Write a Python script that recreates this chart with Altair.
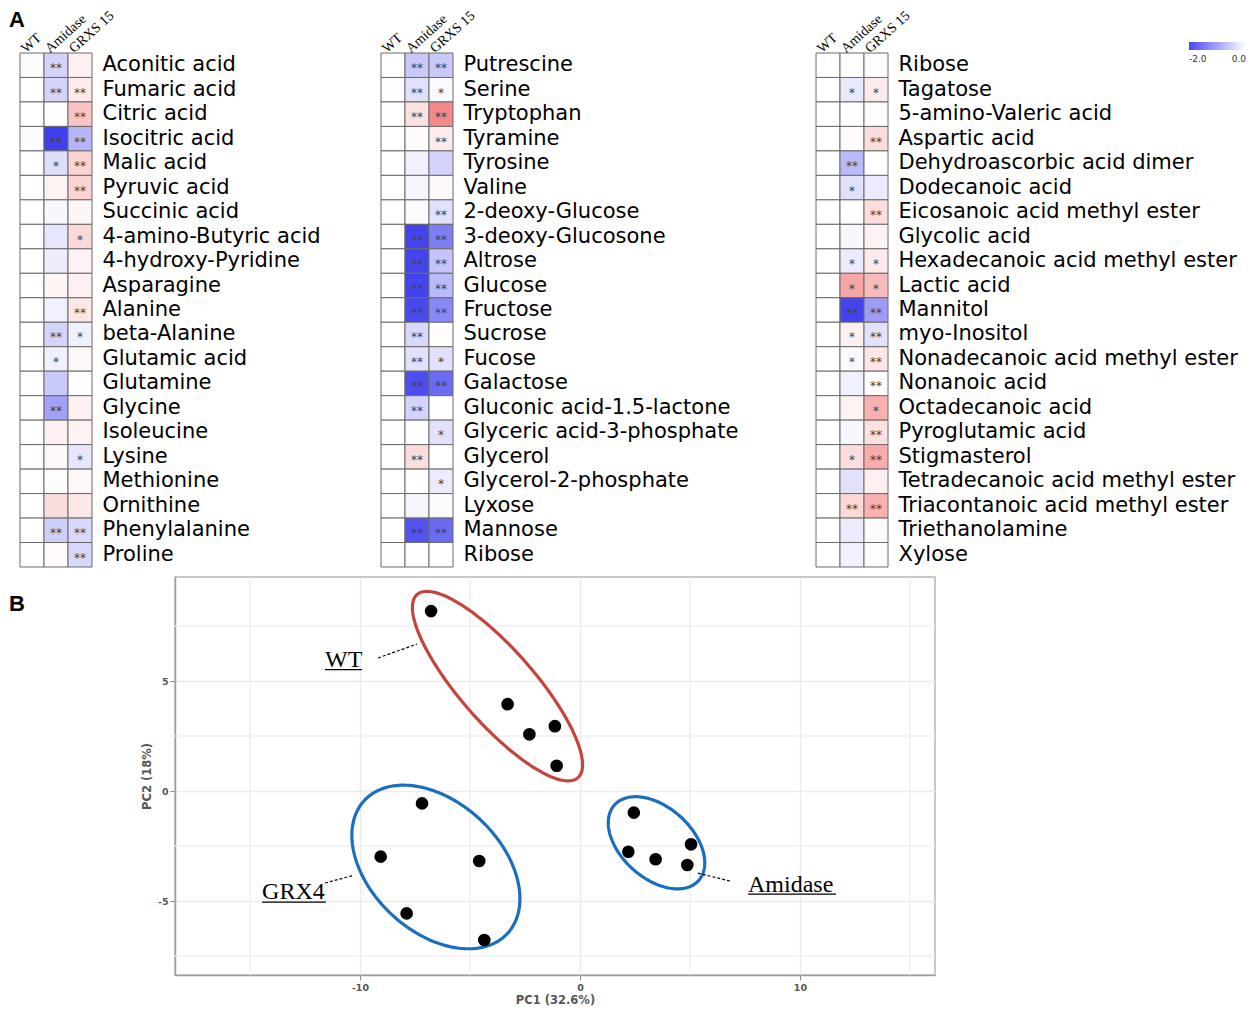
import altair as alt
import pandas as pd
import numpy as np

GROUPS = ["WT", "Amidase", "GRXS 15"]

# ---------------- Panel A data ----------------
p1_names = ["Aconitic acid", "Fumaric acid", "Citric acid", "Isocitric acid", "Malic acid",
            "Pyruvic acid", "Succinic acid", "4-amino-Butyric acid", "4-hydroxy-Pyridine",
            "Asparagine", "Alanine", "beta-Alanine", "Glutamic acid", "Glutamine", "Glycine",
            "Isoleucine", "Lysine", "Methionine", "Ornithine", "Phenylalanine", "Proline"]
p1_wt = [-0.03, 0, 0, -0.03, 0, 0, 0, -0.02, 0, 0, 0, 0, 0, 0, 0, 0, 0, 0, 0, 0, 0]
p1_am = [-0.45, -0.45, 0.03, -1.95, -0.35, 0.12, -0.08, -0.25, -0.18, 0.1, -0.15, -0.45,
         -0.15, -0.55, -0.95, 0.15, 0.08, 0.03, 0.35, -0.5, 0.05]
p1_gr = [0.15, 0.2, 0.6, -0.75, 0.45, 0.45, 0.1, 0.4, 0.12, 0.15, 0.25, -0.15, 0.08, 0.02,
         0.15, 0.12, -0.25, 0.08, 0.25, -0.4, -0.4]
p1_am_sig = ["**", "**", "", "**", "*", "", "", "", "", "", "", "**", "*", "", "**", "", "", "", "", "**", ""]
p1_gr_sig = ["", "**", "**", "**", "**", "**", "", "*", "", "", "**", "*", "", "", "", "", "*", "", "", "**", "**"]

p2_names = ["Putrescine", "Serine", "Tryptophan", "Tyramine", "Tyrosine", "Valine",
            "2-deoxy-Glucose", "3-deoxy-Glucosone", "Altrose", "Glucose", "Fructose",
            "Sucrose", "Fucose", "Galactose", "Gluconic acid-1.5-lactone",
            "Glyceric acid-3-phosphate", "Glycerol", "Glycerol-2-phosphate", "Lyxose",
            "Mannose", "Ribose"]
p2_wt = [0, -0.02, 0, 0, 0, 0, 0, 0, 0, 0, 0, 0, 0, 0, 0, 0, 0, 0, 0, 0, 0]
p2_am = [-0.55, -0.3, 0.3, 0.04, -0.15, -0.1, -0.05, -1.9, -1.9, -1.9, -1.85, -0.4, -0.3,
         -1.8, -0.45, 0, 0.35, 0, -0.1, -1.75, 0]
p2_gr = [-0.55, -0.05, 1.2, 0.2, -0.45, 0.06, -0.3, -1.3, -0.6, -0.7, -1.2, 0.03, -0.3,
         -1.5, 0, -0.3, 0, -0.2, -0.03, -1.5, 0]
p2_am_sig = ["**", "**", "**", "", "", "", "", "**", "**", "**", "**", "**", "**", "**", "**", "", "**", "", "", "**", ""]
p2_gr_sig = ["**", "*", "**", "**", "", "", "**", "**", "**", "**", "**", "", "*", "**", "", "*", "", "*", "", "**", ""]

p3_names = ["Ribose", "Tagatose", "5-amino-Valeric acid", "Aspartic acid",
            "Dehydroascorbic acid dimer", "Dodecanoic acid", "Eicosanoic acid methyl ester",
            "Glycolic acid", "Hexadecanoic acid methyl ester", "Lactic acid", "Mannitol",
            "myo-Inositol", "Nonadecanoic acid methyl ester", "Nonanoic acid",
            "Octadecanoic acid", "Pyroglutamic acid", "Stigmasterol",
            "Tetradecanoic acid methyl ester", "Triacontanoic acid methyl ester",
            "Triethanolamine", "Xylose"]
p3_wt = [0, 0, 0, 0, 0, 0, 0, 0, 0, 0, 0, 0, 0, 0, 0, 0, 0, 0, 0, 0, 0]
p3_am = [0.03, -0.22, 0.02, 0.04, -0.7, -0.3, 0.02, -0.08, -0.2, 0.9, -1.9, 0.15, -0.05,
         -0.15, 0.12, -0.08, 0.35, -0.3, 0.4, -0.2, -0.15]
p3_gr = [0.03, 0.2, 0.03, 0.35, 0, -0.2, 0.35, 0.12, 0.2, 0.7, -1.0, -0.3, 0.25, 0, 0.8,
         0.3, 0.85, 0.15, 0.8, 0.05, 0.03]
p3_am_sig = ["", "*", "", "", "**", "*", "", "", "*", "*", "**", "*", "*", "", "", "", "*", "", "**", "", ""]
p3_gr_sig = ["", "*", "", "**", "", "", "**", "", "*", "*", "**", "**", "**", "**", "*", "**", "**", "", "**", "", ""]

legend_vals = [-2.0, 0.0]
legend_labels = ["-2.0", "0.0"]

# ---------------- Panel B data ----------------
wt_x = [-6.77, -3.29, -2.30, -1.14, -1.06]
wt_y = [8.18, 3.95, 2.58, 2.95, 1.15]
grx_x = [-7.18, -9.06, -4.58, -7.88, -4.35]
grx_y = [-0.56, -2.98, -3.18, -5.56, -6.77]
ami_x = [2.45, 2.20, 3.44, 5.05, 4.88]
ami_y = [-0.98, -2.76, -3.10, -2.42, -3.36]

# ellipse: group, center x, center y, semi-major, semi-minor, angle (deg)
ell_groups = ["WT", "GRX4", "Amidase"]
ell_cx = [-3.75, -6.55, 3.48]
ell_cy = [4.77, -3.45, -2.35]
ell_a = [5.54, 4.44, 2.57]
ell_b = [1.68, 2.95, 1.61]
ell_ang = [-48.7, -43.0, -42.0]

lab_text = ["WT", "GRX4", "Amidase"]
lab_x = [-11.59, -14.45, 7.64]
lab_y = [5.64, -4.91, -4.59]
lab_x_end = [-9.91, -11.55, 11.64]
lab_uy = [5.52, -5.05, -4.68]
con_x = [-9.18, -11.59, 5.36]
con_y = [6.05, -4.18, -3.73]
con_x2 = [-7.41, -10.27, 6.82]
con_y2 = [6.68, -3.82, -4.09]

major_x = [-10, 0, 10]
major_y = [-5, 0, 5]
minor_x = [-15, -5, 5, 15]
minor_y = [-7.5, -2.5, 2.5, 7.5]

CSCALE = alt.Scale(domain=[-2, 0, 2], range=["#3a3aee", "#ffffff", "#ee3a3a"],
                   interpolate="rgb", clamp=True)


def spacer(w):
    return alt.Chart(pd.DataFrame({"s": [0]})).mark_point(opacity=0).encode(
        x=alt.value(0), y=alt.value(0)).properties(width=w, height=1)


def panel(names, wt, am, gr, am_sig, gr_sig, offset, letter=None):
    rows = []
    for i, n in enumerate(names):
        rows.append({"name": n, "grp": "WT", "val": wt[i], "sig": ""})
        rows.append({"name": n, "grp": "Amidase", "val": am[i], "sig": am_sig[i]})
        rows.append({"name": n, "grp": "GRXS 15", "val": gr[i], "sig": gr_sig[i]})
    df = pd.DataFrame(rows)
    base = alt.Chart(df).encode(
        x=alt.X("grp:N", sort=GROUPS,
                scale=alt.Scale(paddingInner=0, paddingOuter=0),
                axis=alt.Axis(orient="top", title=None, labelAngle=318, labelAlign="left",
                              labelBaseline="alphabetic", labelFont="Liberation Serif",
                              labelFontSize=14, labelColor="black", ticks=False,
                              domain=False, labelPadding=0, labelOffset=offset)),
        y=alt.Y("name:N", sort=names,
                scale=alt.Scale(paddingInner=0, paddingOuter=0),
                axis=alt.Axis(orient="right", title=None, labelFont="DejaVu Sans",
                              labelFontSize=21, labelColor="black", ticks=False,
                              domain=False, labelPadding=10, labelLimit=0)),
    )
    cells = base.mark_rect(stroke="#6a6a6a", strokeWidth=1).encode(
        color=alt.Color("val:Q", scale=CSCALE, legend=None))
    stars = base.mark_text(font="DejaVu Sans", fontSize=12, color="#444444", dy=3).encode(
        text="sig:N")
    layers = [cells, stars]
    if letter:
        layers.append(alt.Chart(pd.DataFrame({"t": [letter]})).mark_text(
            align="left", baseline="top", font="Liberation Sans", fontSize=22,
            fontWeight="bold", color="black").encode(
            text="t:N", x=alt.value(-11), y=alt.value(-43)))
    return alt.layer(*layers).properties(width=72, height=514)


p1 = panel(p1_names, p1_wt, p1_am, p1_gr, p1_am_sig, p1_gr_sig, -6, letter="A")
p2 = panel(p2_names, p2_wt, p2_am, p2_gr, p2_am_sig, p2_gr_sig, -6)
p3 = panel(p3_names, p3_wt, p3_am, p3_gr, p3_am_sig, p3_gr_sig, -6)

# legend (cropped at the page edge, like the original)
grad = alt.LinearGradient(gradient="linear", x1=0, x2=1, y1=0, y2=0, stops=[
    alt.GradientStop(color="#4a4af0", offset=0),
    alt.GradientStop(color="#ffffff", offset=1)])
lscale = alt.Scale(domain=[-2.0, 0.0], nice=False, zero=False)
lg_bar = alt.Chart(pd.DataFrame({"x0": [-2.0], "x1": [0.0]})).mark_rect(color=grad).encode(
    x=alt.X("x0:Q", scale=lscale, axis=None), x2="x1:Q",
    y=alt.value(-11), y2=alt.value(-3))
lg_df = pd.DataFrame({"v": legend_vals, "t": legend_labels})
lg_t1 = alt.Chart(lg_df.iloc[:1]).mark_text(align="left", baseline="top", fontSize=9,
                                           font="DejaVu Sans", color="#333333").encode(
    x=alt.X("v:Q", scale=lscale, axis=None), y=alt.value(2), text="t:N")
lg_t2 = alt.Chart(lg_df.iloc[1:]).mark_text(align="right", baseline="top", fontSize=9,
                                           font="DejaVu Sans", color="#333333").encode(
    x=alt.X("v:Q", scale=lscale, axis=None), y=alt.value(2), text="t:N")
legend = alt.layer(lg_bar, lg_t1, lg_t2).properties(width=57, height=1)

row = alt.hconcat(p1, spacer(289), p2, spacer(363), p3, spacer(301), legend,
                  spacing=0, bounds="flush")

# ---------------- Panel B ----------------
xs = alt.Scale(domain=[-18.41, 16.14], nice=False, zero=False)
ys = alt.Scale(domain=[-8.36, 9.73], nice=False, zero=False)
LBL = "datum.value < 0 ? '-' + abs(datum.value) : '' + datum.value"
xax = alt.Axis(values=major_x, title="PC1 (32.6%)", grid=True, gridColor="#ebebeb",
               gridWidth=1.5, domainColor="#a0a0a0", domainWidth=1.5, tickColor="#8a8a8a",
               tickSize=5, labelFont="DejaVu Sans", labelFontSize=9.5, labelFontWeight="bold",
               labelColor="#555555", labelPadding=2, titleFont="DejaVu Sans",
               titleFontSize=11.5, titleFontWeight="bold", titleColor="#555555",
               titlePadding=3, labelExpr=LBL)
yax = alt.Axis(values=major_y, title="PC2 (18%)", grid=True, gridColor="#ebebeb",
               gridWidth=1.5, domainColor="#a0a0a0", domainWidth=1.5, tickColor="#8a8a8a",
               tickSize=5, labelFont="DejaVu Sans", labelFontSize=9.5, labelFontWeight="bold",
               labelColor="#555555", labelPadding=2, labelAngle=0, titleFont="DejaVu Sans",
               titleFontSize=11.5, titleFontWeight="bold", titleColor="#555555",
               titlePadding=5, labelExpr=LBL)


def X(f):
    return alt.X(f, type="quantitative", scale=xs, axis=xax)


def Y(f):
    return alt.Y(f, type="quantitative", scale=ys, axis=yax)


minor_v = alt.Chart(pd.DataFrame({"v": minor_x})).mark_rule(color="#f0f0f0", strokeWidth=1.5).encode(x=X("v"))
minor_h = alt.Chart(pd.DataFrame({"v": minor_y})).mark_rule(color="#f0f0f0", strokeWidth=1.5).encode(y=Y("v"))

ell_rows = []
t = np.linspace(0, 2 * np.pi, 181)
for g, cx, cy, a, b, ang in zip(ell_groups, ell_cx, ell_cy, ell_a, ell_b, ell_ang):
    th = np.deg2rad(ang)
    for k, tt in enumerate(t):
        ell_rows.append({"grp": g, "k": k,
                         "x": cx + a * np.cos(tt) * np.cos(th) - b * np.sin(tt) * np.sin(th),
                         "y": cy + a * np.cos(tt) * np.sin(th) + b * np.sin(tt) * np.cos(th)})
ell_df = pd.DataFrame(ell_rows)
ellipses = alt.Chart(ell_df).mark_line(strokeWidth=3.2).encode(
    x=X("x"), y=Y("y"), detail="grp:N", order="k:Q",
    color=alt.Color("grp:N", scale=alt.Scale(domain=["WT", "GRX4", "Amidase"],
                                              range=["#c4453d", "#1a6ebf", "#1a6ebf"]),
                    legend=None))

pts_df = pd.DataFrame({
    "x": wt_x + grx_x + ami_x,
    "y": wt_y + grx_y + ami_y,
    "g": ["WT"] * 5 + ["GRX4"] * 5 + ["Amidase"] * 5})
points = alt.Chart(pts_df).mark_circle(size=160, color="black", opacity=1).encode(x=X("x"), y=Y("y"))

con_df = pd.DataFrame({"x": con_x, "y": con_y, "x2": con_x2, "y2": con_y2})
connectors = alt.Chart(con_df).mark_rule(color="black", strokeWidth=1.2, strokeDash=[3, 2]).encode(
    x=X("x"), y=Y("y"), x2="x2:Q", y2="y2:Q")

lab_df = pd.DataFrame({"x": lab_x, "y": lab_y, "t": lab_text, "xe": lab_x_end, "uy": lab_uy})
labels = alt.Chart(lab_df).mark_text(align="left", baseline="alphabetic", font="Liberation Serif",
                                     fontSize=24, color="black").encode(x=X("x"), y=Y("y"), text="t:N")
underl = alt.Chart(lab_df).mark_rule(color="black", strokeWidth=1.3).encode(
    x=X("x"), x2="xe:Q", y=Y("uy"))

btxt = alt.Chart(pd.DataFrame({"t": ["B"]})).mark_text(
    align="left", baseline="top", font="Liberation Sans", fontSize=22, fontWeight="bold",
    color="black").encode(text="t:N", x=alt.value(-166), y=alt.value(17))

pca = alt.layer(minor_v, minor_h, ellipses, points, connectors, labels, underl, btxt).properties(
    width=760, height=398, view=alt.ViewBackground(stroke="#b8b8b8", strokeWidth=1.5))

pca_row = alt.hconcat(spacer(155), pca, spacing=0, bounds="flush")

chart = alt.vconcat(row, pca_row, spacing=6).properties(padding=0).configure_view(stroke=None)

chart.save("out.html", embed_options={"renderer": "svg", "actions": False})
